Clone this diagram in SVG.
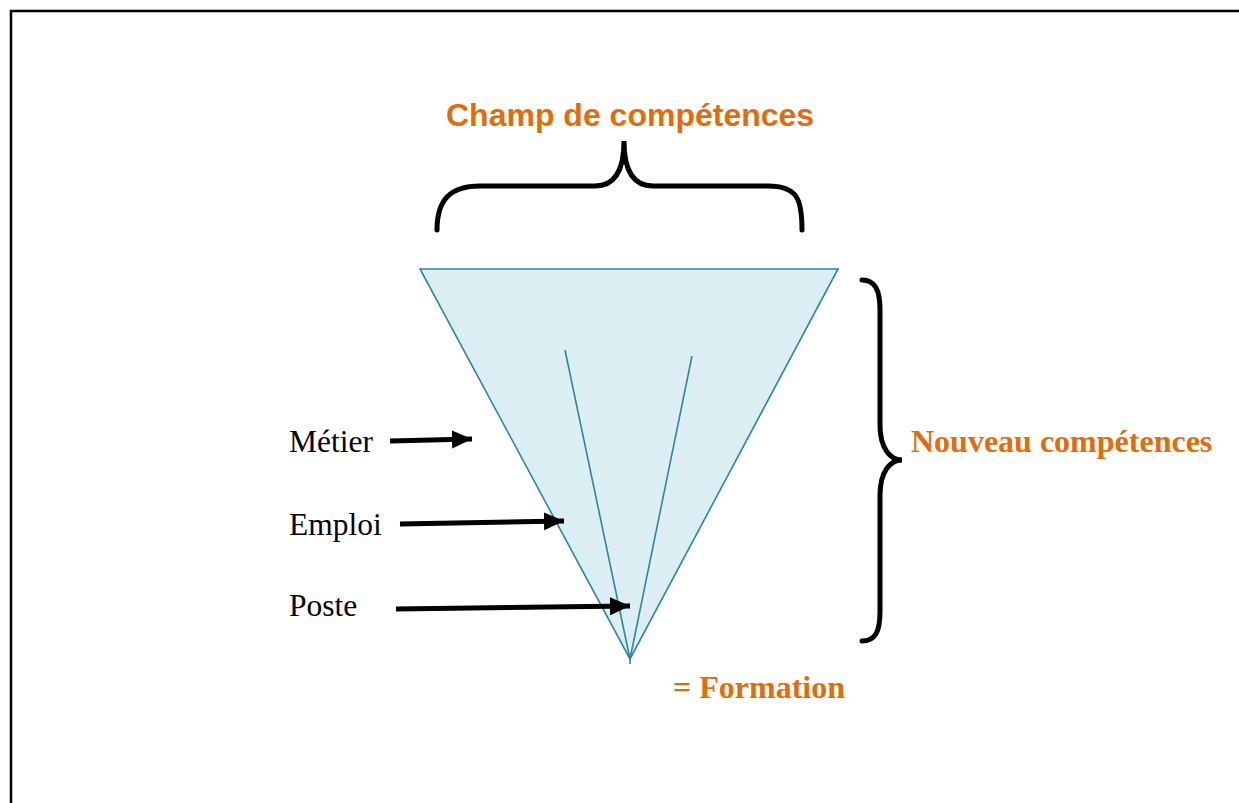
<svg xmlns="http://www.w3.org/2000/svg" width="1239" height="803" viewBox="0 0 1239 803">
<style>
.orange{fill:#E36C0A;font-weight:bold}
.sans{font-family:"Liberation Sans",Arial,sans-serif}
.serif{font-family:"Liberation Serif","Times New Roman",serif}
.lbl{fill:#000;font-size:31.5px}
.brace{fill:none;stroke:#000;stroke-width:5;stroke-linecap:round}
.arr{stroke:#000;stroke-width:5}
.tri{fill:#DBEEF3;stroke:#31849B;stroke-width:1.6}
.inner{fill:none;stroke:#31849B;stroke-width:1.6}
</style>
<defs>
<marker id="ah" markerUnits="userSpaceOnUse" markerWidth="22" markerHeight="20" refX="20" refY="9" orient="auto">
<path d="M0,0 L20,9 L0,18 Z" fill="#000"/>
</marker>
</defs>
<rect width="1239" height="803" fill="#fff"/>
<path d="M11,803 V11 H1239" fill="none" stroke="#000" stroke-width="2.5"/>
<g id="cone">
<polygon class="tri" points="420,269 838,269 630,659"/>
<path class="inner" d="M565,350 L630,659 L692,356 M630,659 L630,664"/>
</g>
<g id="champ">
<text class="orange sans" x="446" y="126" font-size="32">Champ de compétences</text>
<path class="brace" d="M437,230 C437,200 450,186 480,186 L595,186 C615,186 624,170 624,141 C624,170 633,186 653,186 L768,186 C798,186 802,200 802,230"/>
</g>
<g id="nouveau">
<path class="brace" d="M862,280 C875,280 880,290 880,310 L880,425 C880,448 890,460 902,460 C890,460 880,472 880,495 L880,612 C880,632 875,641 862,641"/>
<text class="orange serif" x="911" y="452" font-size="32">Nouveau compétences</text>
</g>
<g id="metier"><text class="lbl serif" x="289" y="452">Métier</text></g>
<g id="emploi"><text class="lbl serif" x="289" y="535">Emploi</text></g>
<g id="poste"><text class="lbl serif" x="289" y="616">Poste</text></g>
<g id="formation"><text class="orange serif" x="673" y="698" font-size="32">= Formation</text></g>
<g id="connectors">
<line class="arr" x1="390" y1="441" x2="472" y2="439" marker-end="url(#ah)"/>
<line class="arr" x1="400" y1="524" x2="564" y2="521" marker-end="url(#ah)"/>
<line class="arr" x1="396" y1="609" x2="630" y2="606" marker-end="url(#ah)"/>
</g>
</svg>
